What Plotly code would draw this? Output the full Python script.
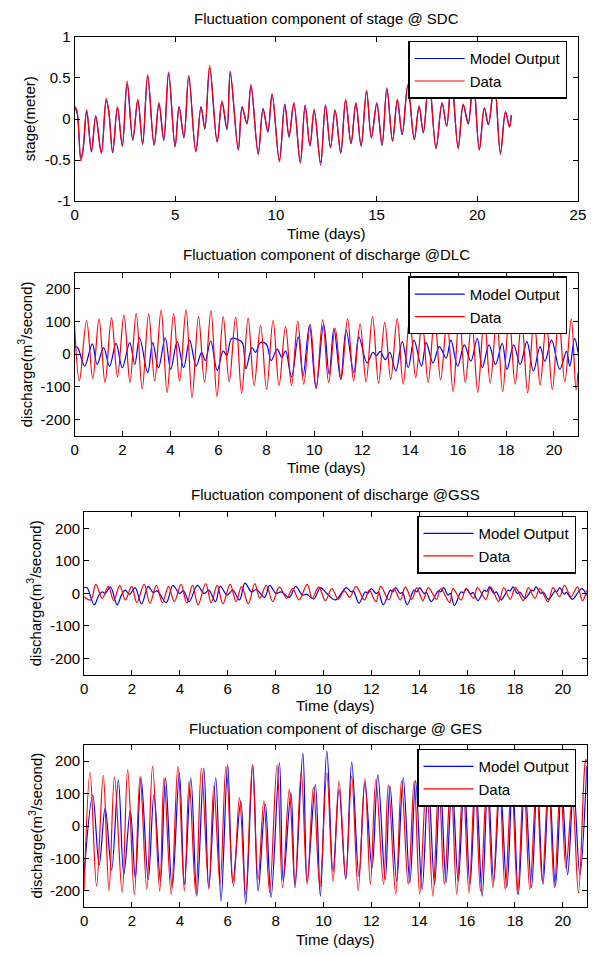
import plotly.graph_objects as go

# ---------------- data ----------------
# Panel 1: stage @ SDC (meter)
sdc_t = [0, 0.12, 0.31, 0.42, 0.6, 0.84, 1.05, 1.33, 1.57, 1.7,
         1.89, 2.13, 2.37, 2.61, 2.89, 3.14, 3.38, 3.63, 3.95, 4.19,
         4.43, 4.67, 4.99, 5.19, 5.43, 5.67, 6.02, 6.28, 6.47, 6.71,
         7.08, 7.32, 7.57, 7.73, 8.13, 8.32, 8.56, 8.76, 9.12, 9.36,
         9.6, 9.81, 10.17, 10.44, 10.65, 10.89, 11.21, 11.45, 11.69, 11.9,
         12.22, 12.46, 12.71, 12.94, 13.22, 13.46, 13.73, 13.97, 14.23, 14.5,
         14.74, 15.01, 15.27, 15.51, 15.79, 16.03, 16.27, 16.55, 16.87, 17.11,
         17.32, 17.6, 17.95, 18.25, 18.48, 18.72, 19.05, 19.3, 19.55, 19.8,
         20.1, 20.35, 20.55, 20.85, 21.15, 21.4, 21.6, 21.69]
sdc_data = [0.16, 0.10, -0.51, -0.36, 0.11, -0.38, 0.02, -0.42, 0.25, 0.08,
            -0.40, 0.15, -0.32, 0.46, -0.24, 0.24, -0.29, 0.54, -0.31, 0.20,
            -0.24, 0.57, -0.34, 0.14, -0.21, 0.53, -0.40, 0.14, -0.10, 0.65,
            -0.27, 0.22, -0.11, 0.58, -0.38, 0.13, -0.04, 0.42, -0.43, 0.11,
            -0.14, 0.31, -0.52, 0.17, -0.20, 0.20, -0.54, 0.15, -0.32, 0.12,
            -0.56, 0.16, -0.34, 0.11, -0.42, 0.24, -0.29, 0.20, -0.32, 0.35,
            -0.22, 0.20, -0.31, 0.38, -0.26, 0.24, -0.18, 0.42, -0.24, 0.16,
            -0.16, 0.50, -0.36, 0.20, -0.08, 0.50, -0.36, 0.18, -0.04, 0.50,
            -0.38, 0.14, -0.06, 0.45, -0.43, 0.09, -0.10, 0.04]
sdc_model = [0.14, 0.08, -0.47, -0.38, 0.09, -0.40, 0.04, -0.40, 0.22, 0.10,
             -0.41, 0.13, -0.33, 0.43, -0.26, 0.22, -0.31, 0.52, -0.32, 0.18,
             -0.26, 0.55, -0.33, 0.15, -0.23, 0.51, -0.39, 0.15, -0.12, 0.62,
             -0.28, 0.20, -0.13, 0.56, -0.37, 0.15, -0.06, 0.40, -0.42, 0.13,
             -0.16, 0.29, -0.50, 0.18, -0.22, 0.18, -0.52, 0.17, -0.33, 0.10,
             -0.53, 0.17, -0.35, 0.10, -0.40, 0.22, -0.30, 0.18, -0.33, 0.33,
             -0.23, 0.18, -0.32, 0.36, -0.27, 0.22, -0.19, 0.40, -0.25, 0.15,
             -0.17, 0.48, -0.35, 0.19, -0.09, 0.48, -0.35, 0.17, -0.06, 0.48,
             -0.37, 0.13, -0.07, 0.43, -0.41, 0.08, -0.09, 0.05]

# Panel 2: discharge @ DLC (m3/s)
dlc_data_t = [0, 0.2, 0.5, 0.76, 1.02, 1.27, 1.54, 1.79, 2.06, 2.31,
              2.57, 2.82, 3.09, 3.34, 3.61, 3.86, 4.13, 4.38, 4.65, 4.9,
              5.17, 5.42, 5.69, 5.94, 6.20, 6.45, 6.72, 6.97, 7.24, 7.49,
              7.76, 8.01, 8.28, 8.53, 8.80, 9.05, 9.31, 9.56, 9.83, 10.08,
              10.35, 10.60, 10.87, 11.12, 11.39, 11.64, 11.91, 12.16, 12.43, 12.68,
              12.94, 13.19, 13.46, 13.71, 13.98, 14.23, 14.50, 14.75, 15.02, 15.27,
              15.54, 15.79, 16.05, 16.30, 16.57, 16.82, 17.09, 17.34, 17.61, 17.86,
              18.13, 18.38, 18.65, 18.90, 19.17, 19.42, 19.68, 19.93, 20.20, 20.45,
              20.72, 20.92, 21.0]
dlc_data = [88, -82, 103, -75, 108, -87, 111, -70, 120, -87,
            125, -107, 123, -82, 135, -118, 125, -83, 136, -134,
            115, -86, 133, -131, 115, -85, 113, -120, 110, -97,
            88, -108, 103, -96, 85, -97, 101, -92, 91, -105,
            105, -87, 80, -77, 108, -82, 93, -85, 115, -89,
            98, -77, 108, -92, 110, -72, 100, -87, 115, -79,
            105, -115, 118, -87, 102, -117, 112, -89, 105, -115,
            115, -92, 104, -119, 110, -95, 100, -109, 112, -85,
            108, -110, -57]
dlc_model_t = [0, 0.12, 0.2, 0.42, 0.74, 0.94, 1.21, 1.46, 1.73, 1.99,
               2.3, 2.51, 2.71, 3.05, 3.26, 3.5, 3.78, 4.01, 4.28, 4.55,
               4.8, 5.07, 5.3, 5.45, 5.68, 5.95, 6.2, 6.35, 6.55, 6.8,
               7.0, 7.15, 7.4, 7.55, 7.75, 8.0, 8.2, 8.45, 8.65, 8.8,
               9.05, 9.33, 9.53, 9.8, 10.07, 10.39, 10.62, 10.82, 11.1, 11.33,
               11.65, 11.86, 12.2, 12.45, 12.6, 12.75, 12.96, 13.15, 13.4, 13.67,
               13.92, 14.16, 14.47, 14.67, 14.95, 15.22, 15.5, 15.7, 15.98, 16.26,
               16.53, 16.8, 17.01, 17.29, 17.56, 17.84, 18.04, 18.32, 18.59, 18.87,
               19.14, 19.42, 19.62, 19.9, 20.24, 20.52, 20.66, 20.86, 21.0]
dlc_model = [23, 20, 8, -37, 31, -32, 20, -37, 33, -42,
             35, -32, 50, -57, 35, -42, 50, -47, 38, -42,
             43, -37, 5, -20, 40, -50, 10, -5, 48, 45,
             35, -45, 20, 5, 35, 30, -20, 15, -10, 10,
             -70, 53, -67, 88, -105, 91, -62, 78, -77, 73,
             -57, 53, -27, 5, -5, 8, -17, 5, -52, 38,
             -42, 43, -37, 35, -27, 23, -12, 43, -37, 28,
             -22, 48, -42, 28, -32, 33, -47, 28, -32, 38,
             -52, 23, -22, 43, -47, 8, -37, 48, 5]

# Panel 3: discharge @ GSS (m3/s)
gss_data_t = [0, 0.28, 0.49, 0.76, 1.01, 1.24, 1.49, 1.72, 1.99, 2.2,
              2.51, 2.75, 3.02, 3.27, 3.53, 3.77, 4.05, 4.29, 4.53, 4.76,
              5.08, 5.31, 5.56, 5.8, 6.1, 6.35, 6.58, 6.86, 7.13, 7.34,
              7.61, 7.88, 8.16, 8.46, 8.71, 8.98, 9.32, 9.53, 9.8, 10.08,
              10.35, 10.62, 10.87, 11.1, 11.36, 11.71, 11.91, 12.19, 12.39, 12.73,
              12.94, 13.21, 13.42, 13.69, 13.9, 14.15, 14.38, 14.72, 14.9, 15.27,
              15.41, 15.75, 15.95, 16.27, 16.43, 16.78, 16.98, 17.32, 17.53, 17.8,
              18.02, 18.35, 18.56, 18.83, 19.04, 19.38, 19.59, 19.86, 20.07, 20.34,
              20.61, 20.82, 21.0]
gss_data = [-10, -20, 28, -15, 22, -22, 25, -20, 22, -28,
            28, -30, 25, -28, 22, -25, 28, -30, 25, -35,
            30, -28, 25, -32, 28, -25, 22, -32, 30, -15,
            25, -25, 20, -15, 15, -20, 28, -15, 20, -22,
            15, -18, 8, -12, 22, -20, 10, -25, 22, -20,
            15, -20, 20, -18, 18, -22, 18, -18, 15, -28,
            15, -20, 15, -15, 18, -18, 20, -25, 18, -18,
            18, -22, 18, -15, 15, -25, 18, -10, 25, -10,
            20, -22, 10]
gss_model_t = [0, 0.12, 0.42, 0.62, 0.76, 0.88, 1.1, 1.38, 1.56, 1.72,
               1.9, 2.13, 2.4, 2.68, 2.88, 3.05, 3.43, 3.71, 3.98, 4.15,
               4.39, 4.73, 5.01, 5.21, 5.49, 5.69, 5.97, 6.21, 6.49, 6.72,
               6.99, 7.2, 7.54, 7.75, 8.02, 8.23, 8.57, 8.84, 9.12, 9.3,
               9.6, 9.87, 10.14, 10.5, 10.95, 11.15, 11.25, 11.48, 11.75, 11.85,
               12.0, 12.2, 12.3, 12.5, 12.8, 12.9, 13.02, 13.2, 13.3, 13.5,
               13.78, 13.9, 14.02, 14.2, 14.3, 14.5, 14.8, 14.9, 15.02, 15.2,
               15.3, 15.47, 15.75, 15.85, 15.97, 16.15, 16.25, 16.45, 16.72, 16.82,
               16.93, 17.12, 17.22, 17.42, 17.7, 17.8, 17.92, 18.1, 18.2, 18.42,
               18.7, 18.78, 18.88, 19.08, 19.18, 19.4, 19.68, 19.76, 19.87, 20.05,
               20.15, 20.4, 20.65, 20.8, 21.0]
gss_model = [18, 18, -35, -5, 5, 0, 20, -35, -5, 10,
             -3, 18, -32, 22, 3, 8, -28, 25, 0, 8,
             -25, 25, 0, 10, -25, 22, -5, 10, -20, 32,
             5, 12, -12, 25, 0, 5, -12, 22, -5, -3,
             -17, 18, 0, -20, 18, 5, 8, -30, 5, 0,
             15, 0, 3, -35, 10, 5, 18, 0, 3, -35,
             10, 5, 18, 0, 3, -25, 8, 5, 18, -5,
             0, -37, 5, 2, 15, -2, 3, -22, 10, 6,
             20, 0, 5, -20, 10, 8, 20, 0, 4, -15,
             10, 8, 20, 0, 4, -18, 8, 6, 18, -2,
             3, -18, 5, 15, -6]

# Panel 4: discharge @ GES (m3/s)
ges_data_t = [0, 0.25, 0.52, 0.8, 1.04, 1.27, 1.59, 1.82, 2.1, 2.34,
              2.62, 2.86, 3.16, 3.34, 3.64, 3.92, 4.19, 4.39, 4.67, 4.9,
              5.21, 5.42, 5.68, 5.93, 6.24, 6.49, 6.75, 7.03, 7.27, 7.51,
              7.75, 8.06, 8.29, 8.57, 8.81, 9.07, 9.32, 9.58, 9.85, 10.14,
              10.4, 10.65, 10.93, 11.18, 11.45, 11.73, 11.96, 12.19, 12.51, 12.71,
              13.02, 13.26, 13.54, 13.79, 14.02, 14.3, 14.57, 14.82, 15.05, 15.32,
              15.57, 15.83, 16.08, 16.33, 16.56, 16.83, 17.08, 17.35, 17.59, 17.86,
              18.11, 18.37, 18.62, 18.9, 19.14, 19.4, 19.65, 19.9, 20.13, 20.4,
              20.65, 20.9, 20.96, 21.0]
ges_data = [-200, 166, -185, 156, -200, 152, -205, 174, -211, 154,
            -195, 184, -200, 149, -211, 184, -200, 139, -211, 179,
            -195, 124, -180, 184, -185, 88, -210, 189, -165, 78,
            -205, 189, -190, 113, -180, 169, -180, 119, -190, 164,
            -170, 139, -160, 154, -199, 146, -180, 143, -180, 126,
            -211, 139, -180, 139, -211, 140, -216, 135, -180, 140,
            -211, 135, -206, 140, -201, 135, -190, 140, -196, 135,
            -211, 140, -196, 130, -170, 135, -190, 130, -130, 90,
            -206, 170, 205, 200]
ges_model_t = [0, 0.36, 0.63, 0.88, 1.15, 1.43, 1.66, 1.93, 2.14, 2.38,
               2.68, 2.92, 3.19, 3.4, 3.68, 3.98, 4.19, 4.46, 4.71, 5.0,
               5.21, 5.5, 5.72, 6.0, 6.21, 6.55, 6.75, 7.05, 7.27, 7.57,
               7.81, 8.16, 8.32, 8.64, 8.81, 9.14, 9.32, 9.66, 9.87, 10.14,
               10.4, 10.65, 10.93, 11.18, 11.48, 11.73, 12.03, 12.27, 12.58, 12.78,
               13.06, 13.33, 13.61, 13.85, 14.12, 14.38, 14.64, 14.88, 15.12, 15.37,
               15.63, 15.88, 16.12, 16.37, 16.63, 16.87, 17.11, 17.38, 17.66, 17.9,
               18.14, 18.41, 18.69, 18.93, 19.17, 19.43, 19.69, 19.95, 20.2, 20.45,
               20.71, 21.0]
ges_model = [-150, 95, -120, 55, -135, 142, -150, 48, -160, 149,
             -165, 98, -170, 149, -190, 164, -180, 149, -216, 179,
             -190, 149, -231, 189, -175, 78, -241, 189, -200, 68,
             -220, 196, -170, 103, -190, 225, -170, 128, -216, 233,
             -140, 113, -165, 197, -155, 134, -130, 159, -165, 124,
             -170, 149, -175, 140, -196, 130, -180, 140, -175, 130,
             -170, 140, -180, 130, -216, 140, -170, 130, -190, 140,
             -211, 130, -190, 135, -180, 130, -185, 125, -150, 120,
             -150, 185]

# tick values / labels
stage_x_ticks = [0, 5, 10, 15, 20, 25]
stage_y_ticks = [-1, -0.5, 0, 0.5, 1]
stage_y_labels = ["-1", "-0.5", "0", "0.5", "1"]
day_x_ticks = [0, 2, 4, 6, 8, 10, 12, 14, 16, 18, 20]
q_y_ticks = [-200, -100, 0, 100, 200]
q_y_labels = ["-200", "-100", "0", "100", "200"]

titles = ["Fluctuation component of stage @ SDC",
          "Fluctuation component of discharge @DLC",
          "Fluctuation component of discharge @GSS",
          "Fluctuation component of discharge @ GES"]
ylabels = ["stage(meter)",
           "discharge(m<sup>3</sup>/second)",
           "discharge(m<sup>3</sup>/second)",
           "discharge(m<sup>3</sup>/second)"]
xlabel = "Time (days)"
names = ["Model Output", "Data"]

series = [
    (sdc_t, sdc_model, sdc_t, sdc_data),
    (dlc_model_t, dlc_model, dlc_data_t, dlc_data),
    (gss_model_t, gss_model, gss_data_t, gss_data),
    (ges_model_t, ges_model, ges_data_t, ges_data),
]
for a, b, c, d in series:
    assert len(a) == len(b) and len(c) == len(d)

# ---------------- layout geometry (pixels) ----------------
W, H = 609, 958
FONT = "Liberation Sans, Arial, Helvetica, sans-serif"
FS = 15
boxes = [  # x0, x1, ytop, ybottom
    (72.0, 585.5, 28.3, 195.7),
    (72.0, 585.5, 268.3, 434.3),
    (81.7, 594.5, 512.3, 677.7),
    (81.7, 594.5, 749.3, 914.3),
]
title_y = [10, 250, 494, 732.7]
xlab_y = [229, 467, 709, 947]
ylab_x = [25.8, 20.7, 30.4, 31.2]
legend_pos = [(574.5, 32.3), (574.5, 272.3), (583.5, 515.7), (583.5, 753)]

fx = lambda v: v / W
fy = lambda v: 1 - v / H

fig = go.Figure()
axis_style = dict(showline=True, linecolor="black", linewidth=1, mirror="ticks",
                  ticks="inside", ticklen=5, tickwidth=1, tickcolor="black",
                  showgrid=False, zeroline=False,
                  tickfont=dict(family=FONT, size=FS, color="black"))

annotations = []
for i, (mt, mv, dt, dv) in enumerate(series):
    k = "" if i == 0 else str(i + 1)
    lg = "legend" + k
    fig.add_trace(go.Scatter(x=mt, y=mv, mode="lines", name=names[0],
                             line=dict(color="rgb(0,0,255)", width=1.2, shape="spline", smoothing=1),
                             xaxis="x" + k, yaxis="y" + k, legend=lg))
    fig.add_trace(go.Scatter(x=dt, y=dv, mode="lines", name=names[1],
                             line=dict(color="rgb(255,0,0)", width=1.2, shape="spline", smoothing=1),
                             xaxis="x" + k, yaxis="y" + k, legend=lg))
    x0, x1, yt, yb = boxes[i]
    if i == 0:
        xr, xt = [0, 25], stage_x_ticks
        yr, yt_v, yt_t = [-1, 1], stage_y_ticks, stage_y_labels
    else:
        xr, xt = [0, 21], day_x_ticks
        yr, yt_v, yt_t = [-250, 250], q_y_ticks, q_y_labels
    fig.update_layout(**{
        "xaxis" + k: dict(axis_style, domain=[fx(x0), fx(x1)], anchor="y" + k, range=xr,
                          tickvals=xt, ticktext=[str(v) for v in xt]),
        "yaxis" + k: dict(axis_style, domain=[fy(yb), fy(yt)], anchor="x" + k, range=yr,
                          tickvals=yt_v, ticktext=yt_t),
        lg: dict(x=fx(legend_pos[i][0]), xanchor="right", y=fy(legend_pos[i][1]), yanchor="top",
                 bgcolor="white", bordercolor="black", borderwidth=1.5,
                 font=dict(family=FONT, size=FS, color="black"), itemwidth=50,
                 tracegroupgap=0),
    })
    cx = (x0 + x1) / 2
    annotations.append(dict(text=titles[i], x=fx(cx), y=fy(title_y[i]), xref="paper", yref="paper",
                            xanchor="center", yanchor="middle", showarrow=False,
                            font=dict(family=FONT, size=FS, color="black")))
    annotations.append(dict(text=xlabel, x=fx(cx), y=fy(xlab_y[i]), xref="paper", yref="paper",
                            xanchor="center", yanchor="middle", showarrow=False,
                            font=dict(family=FONT, size=FS, color="black")))
    annotations.append(dict(text=ylabels[i], x=fx(ylab_x[i]), y=fy((yt + yb) / 2), xref="paper",
                            yref="paper", xanchor="center", yanchor="middle", textangle=-90,
                            showarrow=False, font=dict(family=FONT, size=FS, color="black")))

fig.update_layout(width=W, height=H, autosize=False, margin=dict(l=0, r=0, t=0, b=0),
                  paper_bgcolor="white", plot_bgcolor="white", showlegend=True,
                  annotations=annotations, font=dict(family=FONT, size=FS, color="black"))
fig.write_html("out.html", config={"displayModeBar": False},
               post_script="document.body.style.margin='0';document.body.style.overflow='hidden';")
